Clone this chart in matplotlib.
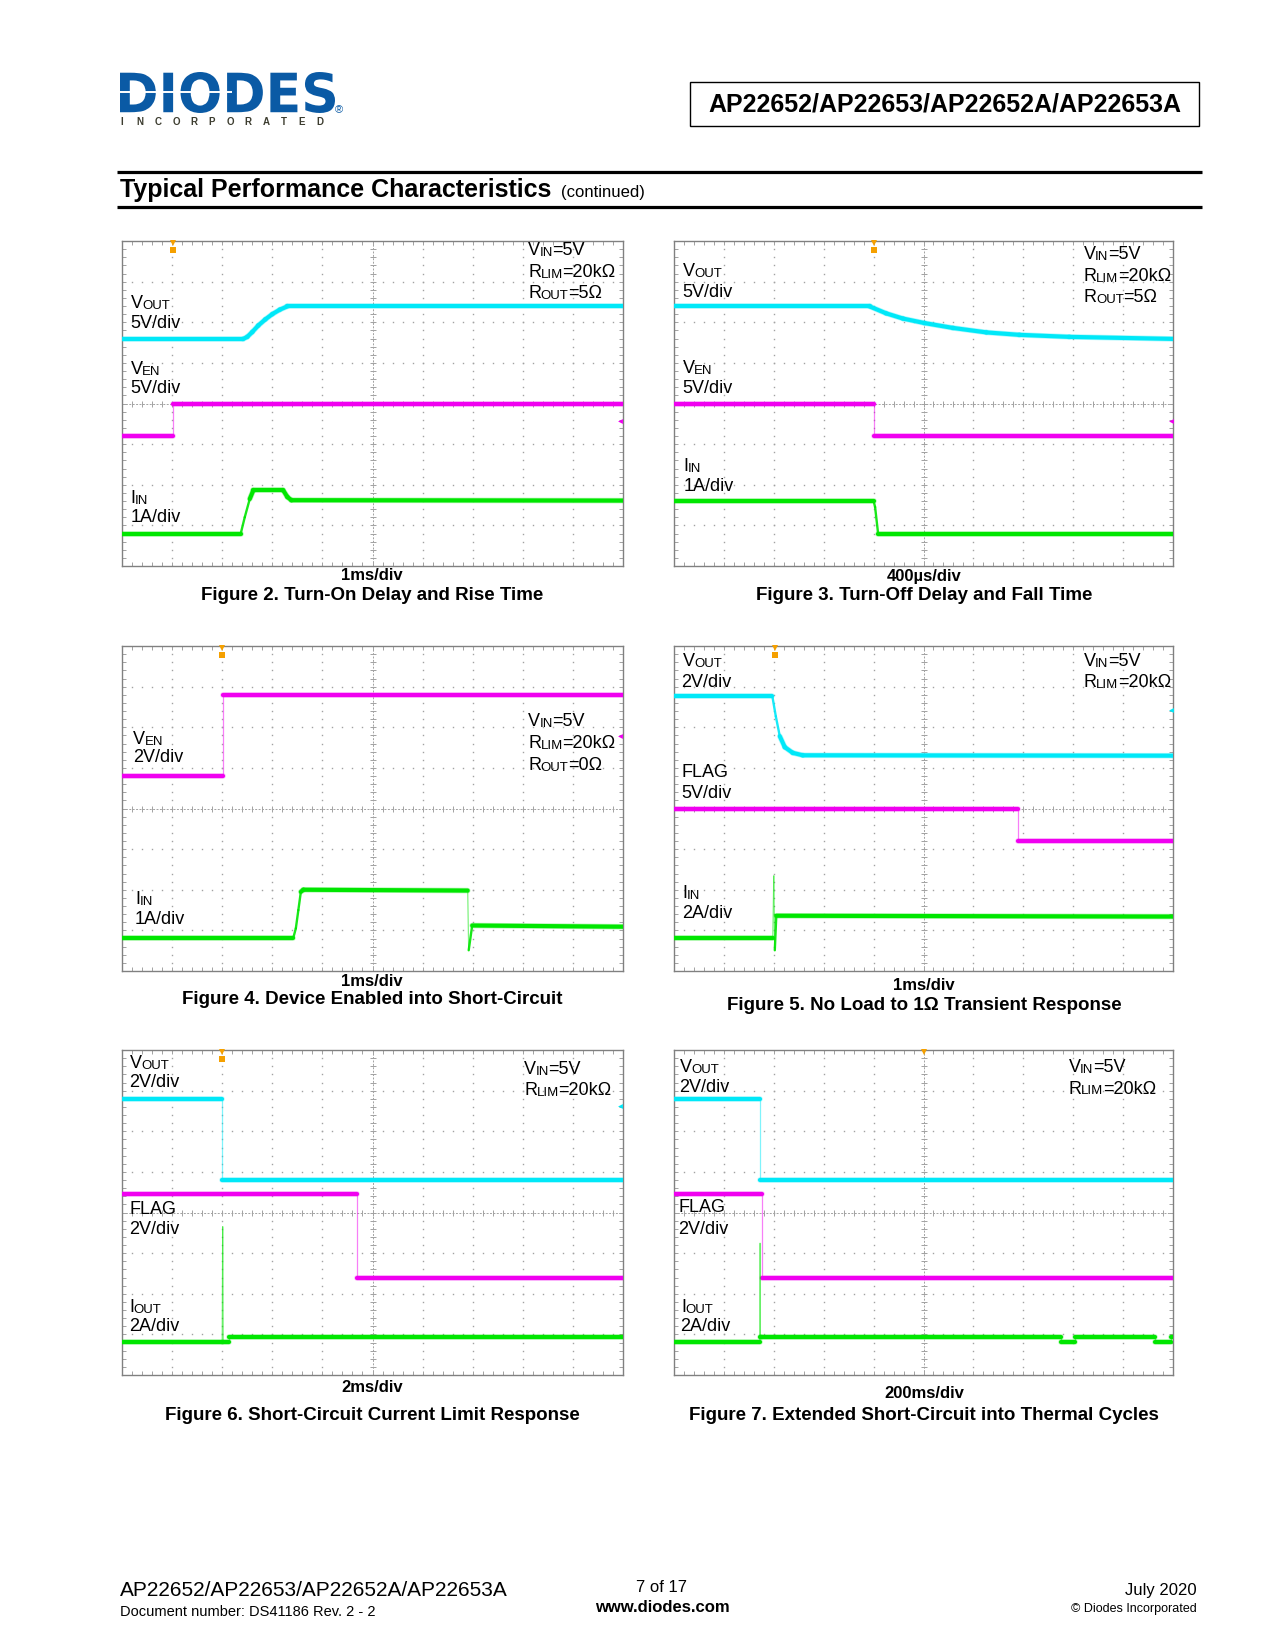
import numpy as np
import matplotlib
matplotlib.use('Agg')
import matplotlib.pyplot as plt
from matplotlib.collections import LineCollection
from matplotlib.colors import to_rgba
from matplotlib.patches import Rectangle, PathPatch
from matplotlib.textpath import TextPath
from matplotlib.font_manager import FontProperties
from matplotlib.transforms import Affine2D

plt.rcParams['font.family'] = ['Liberation Sans', 'DejaVu Sans']

CYAN = '#00e8f8'
MAGENTA = '#f000f0'
GREEN = '#00e600'
TRIG = '#f5a000'
BLUE = '#0a5aa5'
GRID = '#a2a2a2'

# ---- traces, in scope divisions (x: 0..10, y: 0..8 from bottom) ----
F2_VOUT_X = [0, 2.42, 2.5, 2.6, 2.72, 2.86, 3.0, 3.15, 3.3, 10]
F2_VOUT_Y = [5.59, 5.59, 5.64, 5.76, 5.92, 6.07, 6.2, 6.31, 6.39, 6.39]
F2_VEN_X = [0, 1.02, 1.02, 10]
F2_VEN_Y = [3.21, 3.21, 4.0, 4.0]
F2_IIN_X = [0, 2.37, 2.45, 2.55, 2.62, 3.22, 3.3, 3.38, 10]
F2_IIN_Y = [0.8, 0.8, 1.2, 1.65, 1.86, 1.86, 1.7, 1.62, 1.61]

F3_VOUT_X = [0, 3.92, 4.25, 4.59, 5.02, 5.59, 6.26, 6.92, 7.92, 10]
F3_VOUT_Y = [6.39, 6.39, 6.22, 6.09, 5.98, 5.86, 5.75, 5.69, 5.64, 5.59]
F3_VEN_X = [0, 4.0, 4.0, 10]
F3_VEN_Y = [4.0, 4.0, 3.21, 3.21]
F3_IIN_X = [0, 4.0, 4.03, 4.09, 10]
F3_IIN_Y = [1.6, 1.6, 1.45, 0.8, 0.8]

F4_VEN_X = [0, 2.01, 2.01, 10]
F4_VEN_Y = [4.8, 4.8, 6.8, 6.8]
F4_IIN_X = [0, 3.42, 3.47, 3.52, 3.57, 3.62, 6.9, 6.92, 6.99, 10]
F4_IIN_Y = [0.82, 0.82, 1.05, 1.5, 1.95, 2.0, 1.98, 0.51, 1.12, 1.09]

F5_VOUT_X = [0, 1.97, 2.04, 2.12, 2.22, 2.38, 2.58, 10]
F5_VOUT_Y = [6.77, 6.77, 6.27, 5.78, 5.51, 5.37, 5.31, 5.30]
F5_FLAG_X = [0, 6.9, 6.9, 10]
F5_FLAG_Y = [4.0, 4.0, 3.21, 3.21]
F5_IIN_X = [0, 1.98, 2.0, 2.02, 2.05, 10]
F5_IIN_Y = [0.82, 0.82, 2.34, 0.51, 1.36, 1.34]

F6_VOUT_X = [0, 2.0, 2.0, 10]
F6_VOUT_Y = [6.8, 6.8, 4.8, 4.8]
F6_FLAG_X = [0, 4.70, 4.70, 10]
F6_FLAG_Y = [4.45, 4.45, 2.40, 2.40]
F6_IOUT_X = [0, 2.0, 2.01, 2.02, 2.13, 2.13, 10]
F6_IOUT_Y = [0.82, 0.82, 3.65, 0.82, 0.82, 0.94, 0.94]

F7_VOUT_X = [0, 1.72, 1.72, 10]
F7_VOUT_Y = [6.8, 6.8, 4.8, 4.8]
F7_FLAG_X = [0, 1.76, 1.76, 10]
F7_FLAG_Y = [4.45, 4.45, 2.40, 2.40]
F7_IOUT_X = [0, 1.72, 1.725, 1.73, 1.74, 7.76, 7.76, 8.04, 8.04, 9.64, 9.64, 9.96, 9.96, 10]
F7_IOUT_Y = [0.82, 0.82, 3.24, 0.93, 0.93, 0.93, 0.82, 0.82, 0.93, 0.93, 0.82, 0.82, 0.93, 0.93]

TIMEBASE = ['1ms/div', '400µs/div', '1ms/div', '1ms/div', '2ms/div', '200ms/div']
CAPTIONS = ['Figure 2. Turn-On Delay and Rise Time',
            'Figure 3. Turn-Off Delay and Fall Time',
            'Figure 4. Device Enabled into Short-Circuit',
            'Figure 5. No Load to 1Ω Transient Response',
            'Figure 6. Short-Circuit Current Limit Response',
            'Figure 7. Extended Short-Circuit into Thermal Cycles']

W, H = 1275, 1650
fig = plt.figure(figsize=(W / 100, H / 100), dpi=100)
page = fig.add_axes([0, 0, 1, 1])
page.set_xlim(0, W)
page.set_ylim(H, 0)
page.axis('off')

LBL = 13
SUB = 9.5


def scope_axes(left, top, w=501, h=325):
    ax = fig.add_axes([left / W, 1 - (top + h) / H, w / W, h / H])
    ax.set_xlim(0, 10)
    ax.set_ylim(0, 8)
    ax.set_xticks([])
    ax.set_yticks([])
    for s in ax.spines.values():
        s.set_color('#808080')
        s.set_linewidth(1)
    ys = np.linspace(0, 8, 41)
    xs = np.linspace(0, 10, 51)
    for gx in range(1, 10):
        if gx != 5:
            ax.plot(np.full(41, gx), ys, ls='none', marker='s', ms=1.0, mew=0, color=GRID)
    for gy in range(1, 8):
        if gy != 4:
            ax.plot(xs, np.full(51, gy), ls='none', marker='s', ms=1.0, mew=0, color=GRID)
    ax.axvline(5, color=GRID, lw=0.7, ls=(0, (2, 1.5)))
    ax.axhline(4, color=GRID, lw=0.7, ls=(0, (2, 1.5)))
    ax.plot(np.full(41, 5), ys, ls='none', marker='_', ms=5, mew=0.7, color=GRID)
    ax.plot(xs, np.full(51, 4), ls='none', marker='|', ms=5, mew=0.7, color=GRID)
    for by in (0, 8):
        ax.plot(xs, np.full(51, by), ls='none', marker='|', ms=6, mew=0.7, color=GRID)
    for bx in (0, 10):
        ax.plot(np.full(41, bx), ys, ls='none', marker='_', ms=6, mew=0.7, color=GRID)
    return ax


def trace(ax, xs, ys, color):
    xs = np.asarray(xs, float)
    ys = np.asarray(ys, float)
    pts = np.column_stack([xs, ys])
    segs = np.stack([pts[:-1], pts[1:]], axis=1)
    slope = np.abs(np.diff(ys)) / np.maximum(np.abs(np.diff(xs)), 1e-6)
    lws = np.where(slope < 3, 3.0, np.where(slope < 30, 1.7, 0.9))
    alph = np.where(slope < 3, 1.0, np.where(slope < 30, 0.9, 0.5))
    halo = [to_rgba(color, 0.3 if a == 1.0 else 0) for a in alph]
    ax.add_collection(LineCollection(segs, linewidths=lws + 1.0, colors=halo,
                                     capstyle='round', zorder=3))
    ax.add_collection(LineCollection(segs, linewidths=lws,
                                     colors=[to_rgba(color, a) for a in alph],
                                     capstyle='round', zorder=4))


def label(ax, x, y, parts):
    prev = ax.text(x, y, parts[0], fontsize=LBL, va='center', ha='left', zorder=6)
    for i, txt in enumerate(parts[1:]):
        size = SUB if i % 2 == 0 else LBL
        prev = ax.annotate(txt, xy=(1, 0), xycoords=prev, xytext=(-0.4, 0),
                           textcoords='offset points', va='bottom', ha='left',
                           fontsize=size, zorder=6)


def trigger(ax, x, box=True):
    ax.plot([x], [7.95], marker='v', ms=4, color=TRIG, mew=0, clip_on=False, zorder=7)
    if box:
        ax.plot([x], [7.78], marker='s', ms=4.5, color=TRIG, mew=0, zorder=7)


def ground(ax, y, color):
    ax.plot([9.95], [y], marker='<', ms=3.5, mew=0, color=color, zorder=7)


LEFT_COL, RIGHT_COL = 122, 674
ROWS = [241, 646, 1050]

# Figure 2
ax = scope_axes(LEFT_COL, ROWS[0])
trace(ax, F2_VOUT_X, F2_VOUT_Y, CYAN)
trace(ax, F2_VEN_X, F2_VEN_Y, MAGENTA)
trace(ax, F2_IIN_X, F2_IIN_Y, GREEN)
trigger(ax, 1.02)
ground(ax, 3.56, MAGENTA)
label(ax, 0.17, 6.47, ['V', 'OUT'])
label(ax, 0.17, 5.98, ['5V/div'])
label(ax, 0.17, 4.83, ['V', 'EN'])
label(ax, 0.17, 4.37, ['5V/div'])
label(ax, 0.17, 1.65, ['I', 'IN'])
label(ax, 0.17, 1.19, ['1A/div'])
label(ax, 8.11, 7.76, ['V', 'IN', '=5V'])
label(ax, 8.11, 7.22, ['R', 'LIM', '=20kΩ'])
label(ax, 8.11, 6.71, ['R', 'OUT', '=5Ω'])

# Figure 3
ax = scope_axes(RIGHT_COL, ROWS[0], w=499)
trace(ax, F3_VOUT_X, F3_VOUT_Y, CYAN)
trace(ax, F3_VEN_X, F3_VEN_Y, MAGENTA)
trace(ax, F3_IIN_X, F3_IIN_Y, GREEN)
trigger(ax, 4.0)
ground(ax, 3.56, MAGENTA)
label(ax, 0.17, 7.25, ['V', 'OUT'])
label(ax, 0.17, 6.73, ['5V/div'])
label(ax, 0.17, 4.86, ['V', 'EN'])
label(ax, 0.17, 4.38, ['5V/div'])
label(ax, 0.19, 2.46, ['I', 'IN'])
label(ax, 0.19, 1.95, ['1A/div'])
label(ax, 8.21, 7.67, ['V', 'IN', '=5V'])
label(ax, 8.21, 7.13, ['R', 'LIM', '=20kΩ'])
label(ax, 8.21, 6.62, ['R', 'OUT', '=5Ω'])

# Figure 4
ax = scope_axes(LEFT_COL, ROWS[1])
trace(ax, F4_VEN_X, F4_VEN_Y, MAGENTA)
trace(ax, F4_IIN_X, F4_IIN_Y, GREEN)
trigger(ax, 2.0)
ground(ax, 5.78, MAGENTA)
label(ax, 0.22, 5.71, ['V', 'EN'])
label(ax, 0.22, 5.25, ['2V/div'])
label(ax, 0.26, 1.75, ['I', 'IN'])
label(ax, 0.26, 1.26, ['1A/div'])
label(ax, 8.11, 6.13, ['V', 'IN', '=5V'])
label(ax, 8.11, 5.59, ['R', 'LIM', '=20kΩ'])
label(ax, 8.11, 5.07, ['R', 'OUT', '=0Ω'])

# Figure 5
ax = scope_axes(RIGHT_COL, ROWS[1], w=499)
trace(ax, F5_VOUT_X, F5_VOUT_Y, CYAN)
trace(ax, F5_FLAG_X, F5_FLAG_Y, MAGENTA)
trace(ax, F5_IIN_X, F5_IIN_Y, GREEN)
trigger(ax, 2.02)
ground(ax, 6.43, CYAN)
label(ax, 0.17, 7.61, ['V', 'OUT'])
label(ax, 0.15, 7.11, ['2V/div'])
label(ax, 0.15, 4.88, ['FLAG'])
label(ax, 0.15, 4.37, ['5V/div'])
label(ax, 0.17, 1.90, ['I', 'IN'])
label(ax, 0.17, 1.41, ['2A/div'])
label(ax, 8.21, 7.62, ['V', 'IN', '=5V'])
label(ax, 8.21, 7.11, ['R', 'LIM', '=20kΩ'])

# Figure 6
ax = scope_axes(LEFT_COL, ROWS[2])
trace(ax, F6_VOUT_X, F6_VOUT_Y, CYAN)
trace(ax, F6_FLAG_X, F6_FLAG_Y, MAGENTA)
trace(ax, F6_IOUT_X, F6_IOUT_Y, GREEN)
trigger(ax, 2.0)
ground(ax, 6.61, CYAN)
label(ax, 0.15, 7.66, ['V', 'OUT'])
label(ax, 0.15, 7.21, ['2V/div'])
label(ax, 0.14, 4.08, ['FLAG'])
label(ax, 0.14, 3.57, ['2V/div'])
label(ax, 0.14, 1.67, ['I', 'OUT'])
label(ax, 0.14, 1.20, ['2A/div'])
label(ax, 8.03, 7.51, ['V', 'IN', '=5V'])
label(ax, 8.03, 7.00, ['R', 'LIM', '=20kΩ'])

# Figure 7
ax = scope_axes(RIGHT_COL, ROWS[2], w=499)
trace(ax, F7_VOUT_X, F7_VOUT_Y, CYAN)
trace(ax, F7_FLAG_X, F7_FLAG_Y, MAGENTA)
trace(ax, F7_IOUT_X, F7_IOUT_Y, GREEN)
trigger(ax, 5.02, box=False)
label(ax, 0.11, 7.57, ['V', 'OUT'])
label(ax, 0.10, 7.08, ['2V/div'])
label(ax, 0.10, 4.12, ['FLAG'])
label(ax, 0.08, 3.59, ['2V/div'])
label(ax, 0.14, 1.67, ['I', 'OUT'])
label(ax, 0.12, 1.20, ['2A/div'])
label(ax, 7.91, 7.56, ['V', 'IN', '=5V'])
label(ax, 7.91, 7.04, ['R', 'LIM', '=20kΩ'])

# captions
cap_x = [372, 924, 372, 924, 372, 924]
tb_y = [576, 576, 981, 986, 1388, 1394]
cap_y = [596, 596, 1000, 1005, 1415, 1416]
for i in range(6):
    page.text(cap_x[i], tb_y[i], TIMEBASE[i], fontsize=12, fontweight='bold',
              ha='center', va='center')
    page.text(cap_x[i], cap_y[i], CAPTIONS[i], fontsize=13.5, fontweight='bold',
              ha='center', va='center')

# ---- header ----
tp = TextPath((0, 0), 'DIODES', prop=FontProperties(family='DejaVu Sans', weight='heavy'))
bb = tp.get_extents()
tr = Affine2D().translate(-bb.x0, -bb.y0).scale(215 / bb.width, -41 / bb.height).translate(120, 113)
page.add_patch(PathPatch(tr.transform_path(tp), facecolor=BLUE, edgecolor='none'))
page.plot([120, 232], [92, 92], color='white', lw=1.4, solid_capstyle='butt')
for i, ch in enumerate('INCORPORATED'):
    page.text(122 + i * 18, 122, ch, fontsize=7, fontweight='bold', color='#3d3d30',
              ha='center', va='center')
page.text(339, 110, '®', fontsize=8, color=BLUE, ha='center', va='center')

page.add_patch(Rectangle((690, 82), 509, 44, fill=False, edgecolor='black', lw=1))
page.text(944.5, 104, 'AP22652/AP22653/AP22652A/AP22653A', fontsize=18,
          fontweight='bold', ha='center', va='center')

page.plot([117, 1202], [171.5, 171.5], color='black', lw=2.3, solid_capstyle='butt')
page.plot([117, 1202], [207, 207], color='black', lw=2.3, solid_capstyle='butt')
page.text(120, 190.5, 'Typical Performance Characteristics', fontsize=18,
          fontweight='bold', ha='left', va='center')
page.text(561, 192.5, '(continued)', fontsize=12, ha='left', va='center')

# ---- footer ----
page.text(120, 1591, 'AP22652/AP22653/AP22652A/AP22653A', fontsize=15, ha='left', va='center')
page.text(120, 1612, 'Document number: DS41186 Rev. 2 - 2', fontsize=10.5, ha='left', va='center')
page.text(662, 1587, '7 of 17', fontsize=12, ha='center', va='center')
page.text(662, 1608, 'www.diodes.com', fontsize=12, fontweight='bold', ha='center', va='center')
page.text(1197, 1591, 'July 2020', fontsize=12, ha='right', va='center')
page.text(1197, 1609, '© Diodes Incorporated', fontsize=9, ha='right', va='center')

fig.savefig('out.png', dpi=100)
